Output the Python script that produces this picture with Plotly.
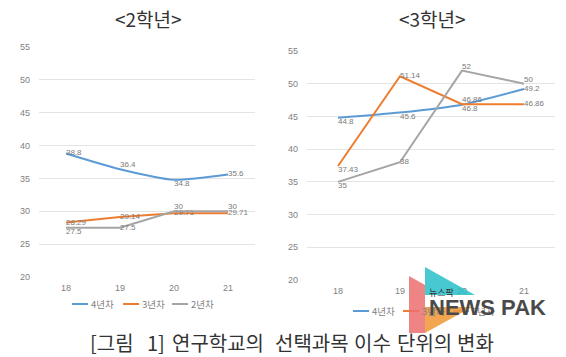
import plotly.graph_objects as go

years = ["18", "19", "20", "21"]
series_names = ["4년차", "3년차", "2년차"]
colors = ["#5B9BD5", "#ED7D31", "#A5A5A5"]

g2_y4 = [38.8, 36.4, 34.8, 35.6]
g2_y3 = [28.29, 29.14, 29.71, 29.71]
g2_y2 = [27.5, 27.5, 30, 30]

g3_y4 = [44.8, 45.6, 46.8, 49.2]
g3_y3 = [37.43, 51.14, 46.86, 46.86]
g3_y2 = [35, 38, 52, 50]

yticks = [20, 25, 30, 35, 40, 45, 50, 55]
title_left = "<2학년>"
title_right = "<3학년>"
caption = "[그림 1] 연구학교의 선택과목 이수 단위의 변화"

W, H = 566, 357
FONT = "Noto Sans CJK KR"

def px(x):
    return x / W

def py(y):
    return 1 - y / H

fig = go.Figure()

pos_left = [
    ["middle right", "top right", "bottom right", "middle right"],
    ["middle right", "middle right", "middle right", "middle right"],
    ["bottom right", "middle right", "top right", "top right"],
]
pos_right = [
    ["bottom right", "bottom right", "bottom right", "middle right"],
    ["bottom right", "middle right", "top right", "middle right"],
    ["bottom right", "middle right", "top right", "top right"],
]

left_data = [g2_y4, g2_y3, g2_y2]
right_data = [g3_y4, g3_y3, g3_y2]

for i, (vals, name) in enumerate(zip(left_data, series_names)):
    fig.add_trace(go.Scatter(
        x=years, y=vals, name=name, mode="lines+text",
        text=[f"{v:g}" for v in vals], textposition=pos_left[i],
        textfont=dict(size=8, color="#7a7a7a", family="Liberation Sans"),
        line=dict(color=colors[i], width=2, shape="spline" if i == 0 else "linear", smoothing=0.6),
        xaxis="x", yaxis="y", showlegend=False, cliponaxis=False,
    ))

for i, (vals, name) in enumerate(zip(right_data, series_names)):
    fig.add_trace(go.Scatter(
        x=years, y=vals, name=name, mode="lines+text",
        text=[f"{v:g}" for v in vals], textposition=pos_right[i],
        textfont=dict(size=8, color="#7a7a7a", family="Liberation Sans"),
        line=dict(color=colors[i], width=2, shape="spline" if i == 0 else "linear", smoothing=0.6),
        xaxis="x2", yaxis="y2", showlegend=False, cliponaxis=False,
    ))

axis_common_x = dict(type="category", range=[-0.5, 3.5], showgrid=False, zeroline=False,
                     showline=False, ticks="", automargin=False,
                     tickfont=dict(size=9, color="#7f7f7f", family="Liberation Sans"),
                     ticklabelstandoff=4)
axis_common_y = dict(range=[20, 55], tickvals=yticks, showgrid=True, gridcolor="#E4E4E4",
                     gridwidth=1, zeroline=False, showline=False, ticks="", automargin=False,
                     tickfont=dict(size=9, color="#7f7f7f", family="Liberation Sans"),
                     ticklabelstandoff=8)

fig.update_layout(
    width=W, height=H,
    margin=dict(l=0, r=0, t=0, b=0, autoexpand=False),
    paper_bgcolor="white", plot_bgcolor="white",
    xaxis=dict(domain=[px(39), px(255)], anchor="y", **axis_common_x),
    yaxis=dict(domain=[py(277), py(47)], anchor="x", **axis_common_y),
    xaxis2=dict(domain=[px(307), px(555)], anchor="y2", **axis_common_x),
    yaxis2=dict(domain=[py(280), py(51)], anchor="x2", **axis_common_y),
    showlegend=False,
)

# Legends (line key + label), one per panel
def add_legend(x_starts, y):
    for name, col, x0 in zip(series_names, colors, x_starts):
        fig.add_shape(type="line", xref="paper", yref="paper",
                      x0=px(x0), x1=px(x0 + 16), y0=py(y), y1=py(y),
                      line=dict(color=col, width=2))
        fig.add_annotation(text=name, x=px(x0 + 17), y=py(y), xref="paper", yref="paper",
                           xanchor="left", yanchor="middle", showarrow=False,
                           font=dict(size=9.5, color="#7f7f7f", family=FONT))

add_legend([72, 123, 172], 304)
add_legend([353, 403, 453], 311)

fig.add_annotation(text=title_left, x=px(148), y=py(18), xref="paper", yref="paper",
                   xanchor="center", yanchor="middle", showarrow=False,
                   font=dict(size=19, color="#333333", family=FONT))
fig.add_annotation(text=title_right, x=px(432), y=py(18), xref="paper", yref="paper",
                   xanchor="center", yanchor="middle", showarrow=False,
                   font=dict(size=19, color="#333333", family=FONT))

# caption, word by word to match the reference's wide letter spacing
caption_words = caption.split(" ")
caption_x = [88, 145, 170, 273, 352, 395, 455]
for wtxt, wx in zip(caption_words, caption_x):
    fig.add_annotation(text=wtxt, x=px(wx), y=py(342), xref="paper", yref="paper",
                       xanchor="left", yanchor="middle", showarrow=False,
                       font=dict(size=20, color="#333333", family=FONT))

# Watermark logo
def poly(points):
    return "M " + " L ".join(f"{px(x)},{py(y)}" for x, y in points) + " Z"

fig.add_shape(type="path", path=poly([(409, 276), (425, 285), (425, 333), (409, 333)]),
              xref="paper", yref="paper", fillcolor="rgba(235,110,110,0.85)", line=dict(width=0))
fig.add_shape(type="path", path=poly([(425, 267), (475, 295), (425, 295)]),
              xref="paper", yref="paper", fillcolor="rgba(40,190,200,0.85)", line=dict(width=0))
fig.add_shape(type="path", path=poly([(425, 333), (472, 307), (425, 307)]),
              xref="paper", yref="paper", fillcolor="rgba(240,150,50,0.85)", line=dict(width=0))
fig.add_annotation(text="<b>NEWS PAK</b>", x=px(427), y=py(307), xref="paper", yref="paper",
                   xanchor="left", yanchor="middle", showarrow=False,
                   font=dict(size=22, color="#4a4a4a", family="Liberation Sans"))
fig.add_annotation(text="뉴스팍", x=px(427), y=py(292), xref="paper", yref="paper",
                   xanchor="left", yanchor="middle", showarrow=False,
                   font=dict(size=9, color="#333333", family=FONT))

fig.write_html("out.html", config={"displayModeBar": False},
               post_script="document.body.style.margin='0';document.body.style.overflow='hidden';")
